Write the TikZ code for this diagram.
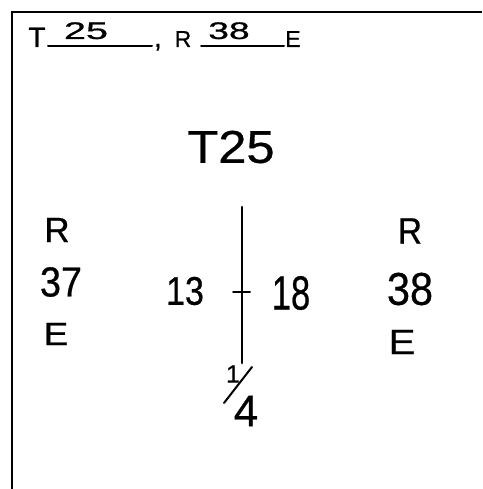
\documentclass[tikz,border=0pt]{standalone}
\usepackage{fontspec}
\setmainfont{Liberation Sans}[FakeBold=0.6]
\newcommand{\fsz}[1]{\fontsize{#1}{#1}\selectfont}
\begin{document}
\begin{tikzpicture}[x=1pt,y=-1pt,
  ink/.style={line width=2.6pt,line cap=round,black},
  thin ink/.style={line width=2pt,line cap=round,black},
  hdr/.style={inner sep=0pt,anchor=base,font=\fsz{23}},
  lbl/.style={inner sep=0pt,anchor=center}]
\useasboundingbox (0,0) rectangle (482,489);
% frame
\coordinate (fb) at (12,489);
\coordinate (fc) at (12,12);
\coordinate (fr) at (482,12);
\draw[ink,line cap=butt] (fb) -- (fc) -- (fr);
% header
\node[hdr,font=\fsz{28}] (hT) at (37,47) {T};
\coordinate (u1a) at (48,46);
\coordinate (u1b) at (152,46);
\draw[thin ink] (u1a) -- (u1b);
\node[hdr,font=\fsz{24},xscale=1.65] (h25) at (86,39) {25};
\node[hdr,font=\fsz{28}] (hc) at (158,47) {,};
\node[hdr] (hR) at (183,47) {R};
\coordinate (u2a) at (201,46);
\coordinate (u2b) at (284,46);
\draw[thin ink] (u2a) -- (u2b);
\node[hdr,font=\fsz{24},xscale=1.55] (h38) at (229,39) {38};
\node[hdr] (hE) at (293,47) {E};
% title
\node[lbl,font=\fsz{46},xscale=1.1] (t25) at (231,147) {T25};
% left column
\node[lbl,font=\fsz{35}] (lR) at (57,230) {R};
\node[lbl,font=\fsz{42},xscale=0.9] (l37) at (61,282) {37};
\node[lbl,font=\fsz{32},xscale=1.15] (lE) at (56,334) {E};
% right column
\node[lbl,font=\fsz{37},xscale=0.9] (rR) at (410,231) {R};
\node[lbl,font=\fsz{46},xscale=0.9] (r38) at (410,289) {38};
\node[lbl,font=\fsz{35},xscale=1.15] (rE) at (402,342) {E};
% centre line
\coordinate (vt) at (242,207);
\coordinate (vb) at (242,363);
\draw[ink] (vt) -- (vb);
\coordinate (tl) at (233,292);
\coordinate (tr) at (250,292);
\draw[thin ink] (tl) -- (tr);
\node[lbl,font=\fsz{40},xscale=0.85] (n13) at (185,291) {13};
\node[lbl,font=\fsz{48},xscale=0.72] (n18) at (291,293) {18};
% fraction 1/4
\node[lbl,font=\fsz{25}] (f1) at (233,374) {1};
\node[lbl,font=\fsz{44}] (f4) at (246,411) {4};
\coordinate (sa) at (224,403);
\coordinate (sb) at (252,367);
\draw[thin ink] (sa) -- (sb);
\end{tikzpicture}
\end{document}
